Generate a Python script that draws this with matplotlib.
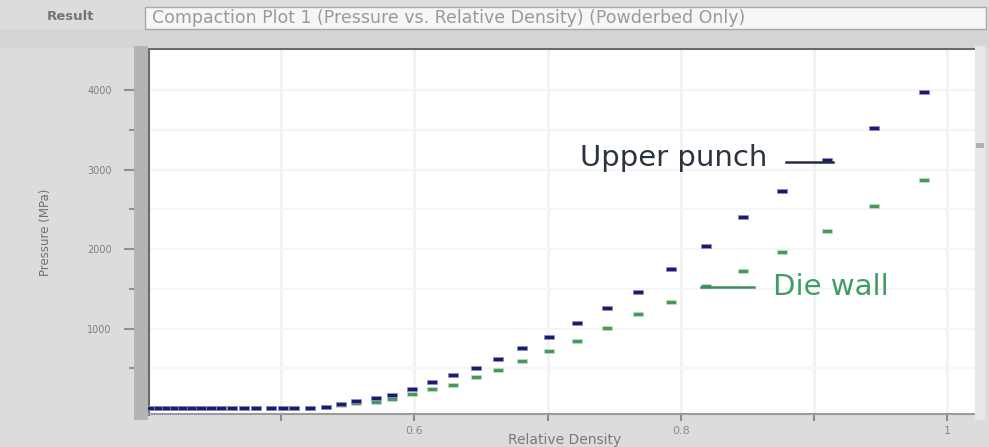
import matplotlib
matplotlib.use("Agg")
import matplotlib.pyplot as plt
from matplotlib.patches import Rectangle
from matplotlib.ticker import FixedLocator, FixedFormatter

# Relative density (x) and pressure readings for the two measurement locations
density = [0.402, 0.408, 0.414, 0.420, 0.426, 0.433, 0.440, 0.447, 0.455, 0.463,
           0.472, 0.481, 0.492, 0.501, 0.510, 0.522, 0.534, 0.545, 0.556, 0.571,
           0.583, 0.598, 0.613, 0.629, 0.646, 0.663, 0.681, 0.701, 0.722, 0.745,
           0.768, 0.793, 0.819, 0.847, 0.876, 0.910, 0.945, 0.983]
upper_punch = [0, 0, 0, 0, 0, 0, 0, 0, 0, 0,
               0, 0, 0, 0, 0, 4, 16, 50, 88, 130,
               164, 239, 327, 415, 507, 613, 751, 889, 1066, 1258,
               1459, 1749, 2038, 2403, 2730, 3120, 3522, 3975]
die_wall = [0, 0, 0, 0, 0, 0, 0, 0, 0, 0,
            0, 0, 0, 0, 0, 0, 8, 35, 60, 79,
            113, 172, 235, 289, 386, 478, 595, 717, 843, 1006,
            1183, 1334, 1535, 1723, 1962, 2227, 2541, 2868]

x_ticks = [0.5, 0.6, 0.7, 0.8, 0.9, 1.0]
x_tick_labels = ["", "0.6", "", "0.8", "", "1"]
y_major = [1000, 2000, 3000, 4000]
y_major_labels = ["1000", "2000", "3000", "4000"]
y_minor = [500, 1500, 2500, 3500]

W, H = 989, 447
fig = plt.figure(figsize=(W / 100, H / 100), dpi=100, facecolor="#dcdcdc")

def fx(px):
    return px / W

def fy(py):
    return 1 - py / H

# Result selector strip at the top
fig.patches.append(Rectangle((0, fy(48)), 1, (48 - 30) / H, transform=fig.transFigure,
                             facecolor="#d4d4d4", edgecolor="none", zorder=0))
fig.text(fx(70), fy(17), "Result", ha="center", va="center", fontsize=9.5,
         color="#747474", fontweight="bold")
fig.patches.append(Rectangle((fx(145), fy(29)), (986 - 145) / W, 22 / H,
                             transform=fig.transFigure, facecolor="#f6f6f6",
                             edgecolor="#a8a8a8", linewidth=1.0, zorder=1))
fig.text(fx(152), fy(18), "Compaction Plot 1 (Pressure vs. Relative Density) (Powderbed Only)",
         ha="left", va="center", fontsize=12.5, color="#9a9a9a", zorder=2)

# Frame band to the left of the plot and scroll strip on the right
fig.patches.append(Rectangle((fx(134), fy(420)), 14 / W, (420 - 46) / H,
                             transform=fig.transFigure, facecolor="#b4b4b4",
                             edgecolor="none", zorder=1))
fig.patches.append(Rectangle((fx(975), fy(420)), 10 / W, (420 - 46) / H,
                             transform=fig.transFigure, facecolor="#e8e8e8",
                             edgecolor="none", zorder=1))
fig.patches.append(Rectangle((fx(976), fy(148)), 8 / W, 5 / H,
                             transform=fig.transFigure, facecolor="#b0b0b0",
                             edgecolor="none", zorder=2))

ax = fig.add_axes([fx(148), fy(414), (975 - 148) / W, (414 - 48) / H])
ax.set_facecolor("white")
ax.set_xlim(0.40, 1.021)
ax.set_ylim(-75, 4529)

# Light grid
for xv in x_ticks:
    ax.axvline(xv, color="#f2f2f2", linewidth=2.0, zorder=0)
for yv in y_major + y_minor:
    ax.axhline(yv, color="#f5f5f5", linewidth=1.5, zorder=0)

marker_shape = [(-1, -0.42), (1, -0.42), (1, 0.42), (-1, 0.42), (-1, -0.42)]
ax.plot(density, die_wall, linestyle="none", marker=marker_shape, markersize=7,
        markerfacecolor="#4a9660", markeredgecolor="#bfe6c0", markeredgewidth=0.5,
        zorder=3)
ax.plot(density, upper_punch, linestyle="none", marker=marker_shape, markersize=7,
        markerfacecolor="#1c1c66", markeredgecolor="#8c8cd8", markeredgewidth=0.5,
        zorder=4)

# Series labels with leader lines
ax.text(0.865, 3040, "Upper punch", ha="right", va="baseline", fontsize=21,
        color="#2a3440", zorder=5)
ax.plot([0.879, 0.914], [3095, 3095], color="#252e3c", linewidth=1.8, zorder=5)
ax.text(0.869, 1425, "Die wall", ha="left", va="baseline", fontsize=21,
        color="#3f9c66", zorder=5)
ax.plot([0.815, 0.855], [1522, 1522], color="#3f8a5c", linewidth=1.8, zorder=5)

# Axes styling
for side in ["top", "left"]:
    ax.spines[side].set_color("#6a6a6a")
    ax.spines[side].set_linewidth(2.2)
ax.spines["bottom"].set_color("#9a9a9a")
ax.spines["bottom"].set_linewidth(1.5)
ax.spines["right"].set_visible(False)

ax.xaxis.set_major_locator(FixedLocator(x_ticks))
ax.xaxis.set_major_formatter(FixedFormatter(x_tick_labels))
ax.tick_params(axis="x", direction="out", length=5, width=1.5, color="#8a8a8a",
               labelsize=8, labelcolor="#8a8a8a", pad=4)

ax.yaxis.set_major_locator(FixedLocator(y_major))
ax.yaxis.set_major_formatter(FixedFormatter(y_major_labels))
ax.yaxis.set_minor_locator(FixedLocator(y_minor))
ax.tick_params(axis="y", which="major", direction="out", length=17, width=1.5,
               color="#8e8e8e", labelsize=7, labelcolor="#808080", pad=9)
ax.tick_params(axis="y", which="minor", direction="out", length=14, width=1.5,
               color="#8e8e8e")

fig.text(fx(565), fy(440), "Relative Density", ha="center", va="center",
         fontsize=10, color="#7a7a7a")
fig.text(fx(46), fy(232), "Pressure (MPa)", ha="center", va="center",
         fontsize=8.5, color="#707070", rotation=90)

fig.savefig("out.png", dpi=100, facecolor=fig.get_facecolor())
